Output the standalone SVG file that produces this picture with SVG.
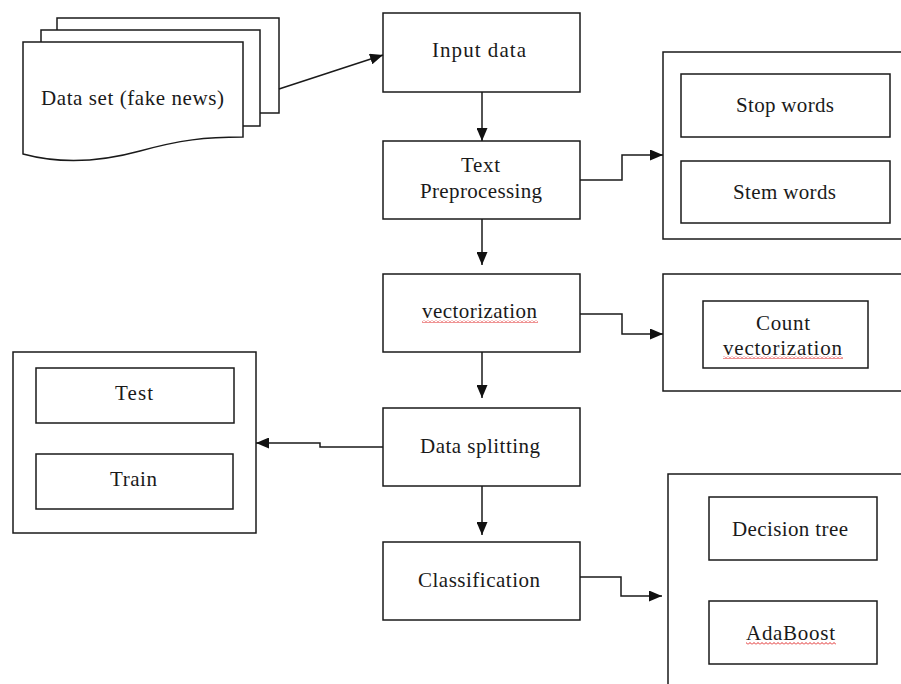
<svg xmlns="http://www.w3.org/2000/svg" width="901" height="684" viewBox="0 0 901 684">
<style>
.box{fill:#fff;stroke:#1a1a1a;stroke-width:1.5}
.ln{fill:none;stroke:#1a1a1a;stroke-width:1.5;marker-end:url(#ah)}
text{font-family:"Liberation Serif","Times New Roman",serif;font-size:21px;fill:#1a1a1a;text-anchor:middle}
.sq{fill:url(#squiggle)}
</style>
<defs>
<marker id="ah" markerUnits="userSpaceOnUse" markerWidth="13" markerHeight="11" refX="13" refY="5.5" orient="auto">
<path d="M0,0 L13,5.5 L0,11 z" fill="#111"/>
</marker>
<pattern id="squiggle" width="4" height="3" patternUnits="userSpaceOnUse">
<path d="M0,2.5 L2,0.5 L4,2.5" stroke="#e02828" stroke-width="1" fill="none"/>
</pattern>
</defs>

<g id="dataset">
<rect class="box" x="57" y="18" width="222" height="95"/>
<rect class="box" x="41" y="30" width="219" height="96"/>
<path class="box" d="M23,42 H243 V137 C205,137 180,140 140,151 C100,162 60,164 23,154 Z"/>
<text x="132.5" y="105" textLength="183" lengthAdjust="spacing">Data set (fake news)</text>
</g>

<g id="input-data">
<rect class="box" x="383" y="13" width="197" height="79"/>
<text x="479" y="57" textLength="94" lengthAdjust="spacing">Input data</text>
</g>

<g id="text-preprocessing">
<rect class="box" x="383" y="141" width="197" height="78"/>
<text x="480.5" y="172" textLength="39" lengthAdjust="spacing">Text</text>
<text x="481" y="198" textLength="122" lengthAdjust="spacing">Preprocessing</text>
</g>

<g id="preprocessing-group">
<rect class="box" x="663" y="52" width="245" height="187"/>
<g id="stop-words">
<rect class="box" x="681" y="74" width="209" height="63"/>
<text x="785" y="112" textLength="98" lengthAdjust="spacing">Stop words</text>
</g>
<g id="stem-words">
<rect class="box" x="681" y="161" width="209" height="62"/>
<text x="784.5" y="199" textLength="103" lengthAdjust="spacing">Stem words</text>
</g>
</g>

<g id="vectorization">
<rect class="box" x="383" y="274" width="197" height="78"/>
<text x="479.5" y="318" textLength="115" lengthAdjust="spacing">vectorization</text>
<rect class="sq" x="422" y="320" width="116" height="3"/>
</g>

<g id="vectorization-group">
<rect class="box" x="663" y="274" width="245" height="117"/>
<g id="count-vectorization">
<rect class="box" x="703" y="301" width="165" height="67"/>
<text x="783" y="330" textLength="54" lengthAdjust="spacing">Count</text>
<text x="782.5" y="355" textLength="119" lengthAdjust="spacing">vectorization</text>
<rect class="sq" x="723" y="356" width="120" height="3"/>
</g>
</g>

<g id="data-splitting">
<rect class="box" x="383" y="408" width="197" height="78"/>
<text x="480" y="453" textLength="120" lengthAdjust="spacing">Data splitting</text>
</g>

<g id="split-group">
<rect class="box" x="13" y="352" width="243" height="181"/>
<g id="test">
<rect class="box" x="36" y="368" width="198" height="55"/>
<text x="134" y="400" textLength="38" lengthAdjust="spacing">Test</text>
</g>
<g id="train">
<rect class="box" x="36" y="454" width="197" height="55"/>
<text x="133.5" y="486" textLength="47" lengthAdjust="spacing">Train</text>
</g>
</g>

<g id="classification">
<rect class="box" x="383" y="542" width="197" height="78"/>
<text x="479" y="587" textLength="122" lengthAdjust="spacing">Classification</text>
</g>

<g id="classifier-group">
<rect class="box" x="668" y="474" width="240" height="220"/>
<g id="decision-tree">
<rect class="box" x="709" y="497" width="168" height="63"/>
<text x="790" y="536" textLength="116" lengthAdjust="spacing">Decision tree</text>
</g>
<g id="adaboost">
<rect class="box" x="709" y="601" width="168" height="63"/>
<text x="790.5" y="640" textLength="89" lengthAdjust="spacing">AdaBoost</text>
<rect class="sq" x="746" y="642" width="90" height="3"/>
</g>
</g>

<g id="connectors">
<path class="ln" d="M279,89 L383,55"/>
<path class="ln" d="M482,92 V141"/>
<path class="ln" d="M482,219 V265"/>
<path class="ln" d="M482,352 V398"/>
<path class="ln" d="M482,486 V535"/>
<path class="ln" d="M580,180 H622 V155 H663"/>
<path class="ln" d="M580,314 H622 V334 H663"/>
<path class="ln" d="M383,447 H320 V443 H256"/>
<path class="ln" d="M580,577 H621 V596 H662"/>
</g>
</svg>
